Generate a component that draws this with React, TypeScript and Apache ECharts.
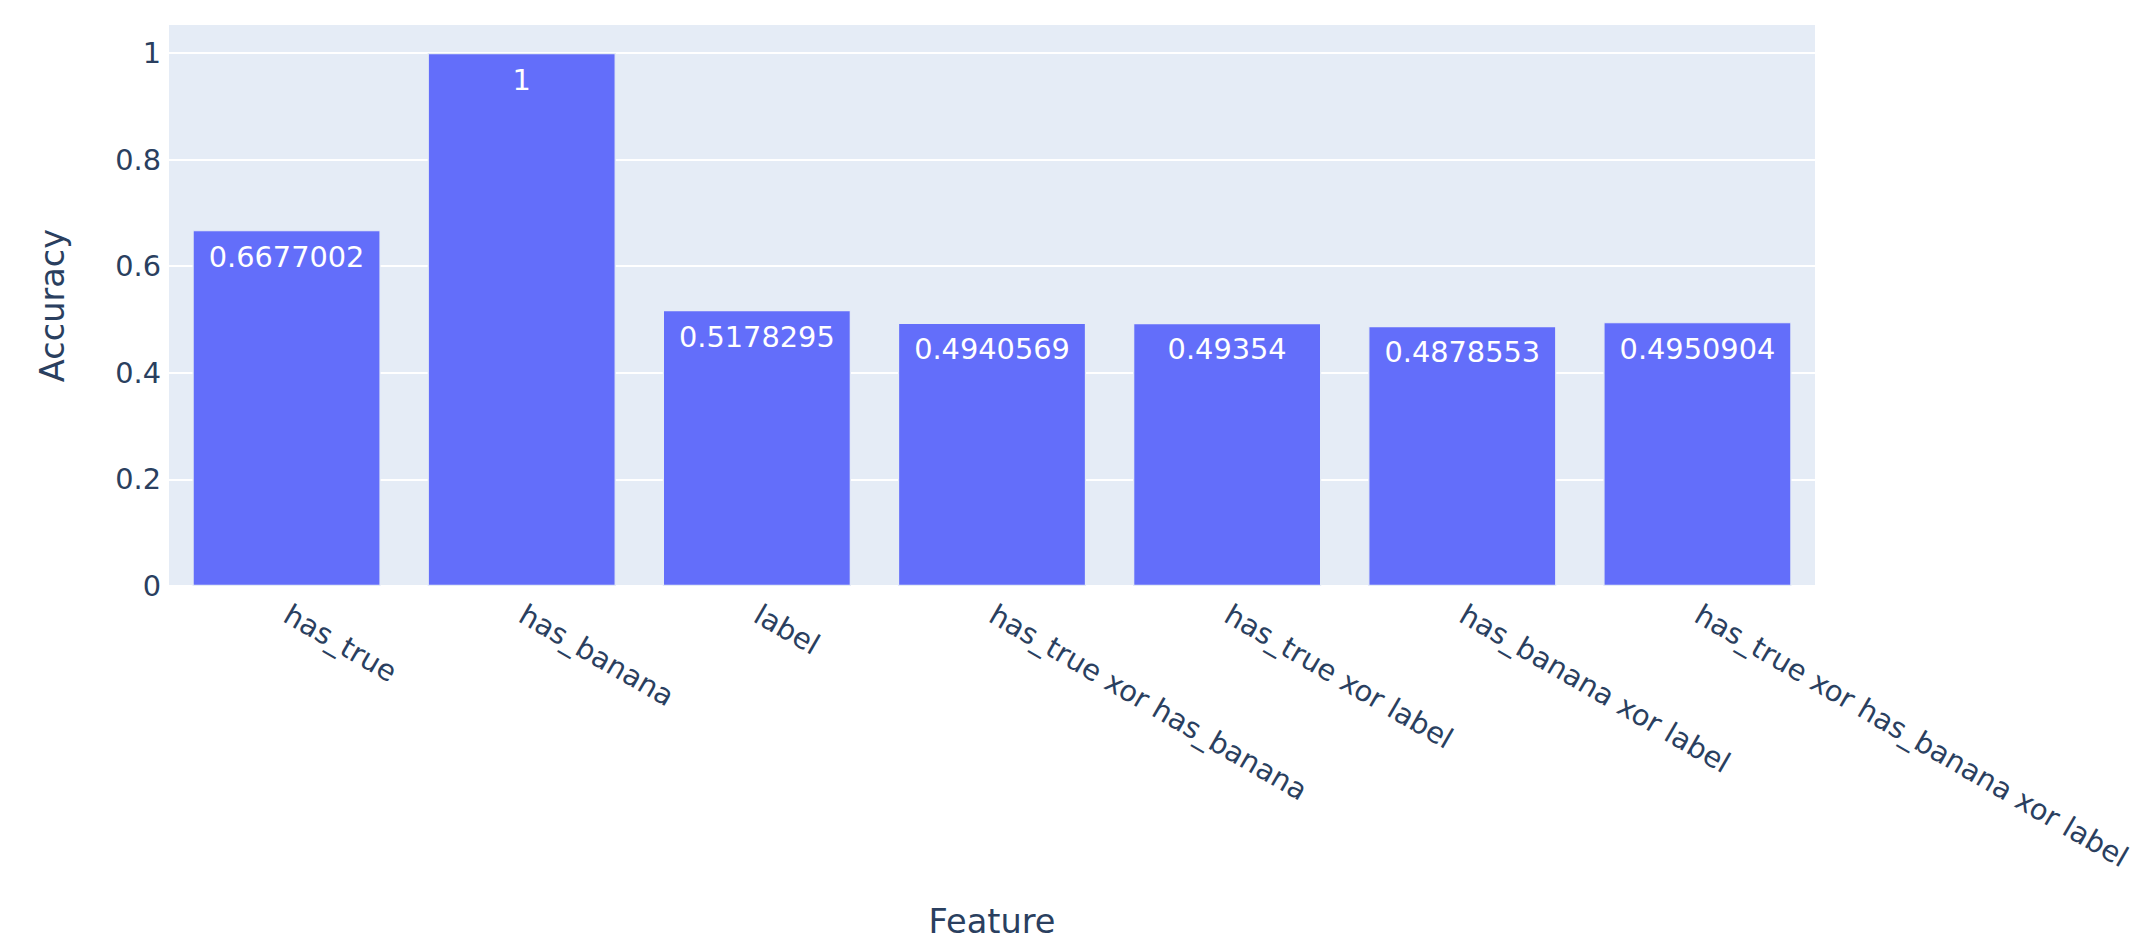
import React, { useEffect, useRef } from "react";
import * as echarts from "echarts";

const categories = [
  "has_true",
  "has_banana",
  "label",
  "has_true xor has_banana",
  "has_true xor label",
  "has_banana xor label",
  "has_true xor has_banana xor label",
];
const accuracy = [0.6677002, 1, 0.5178295, 0.4940569, 0.49354, 0.4878553, 0.4950904];
const yTicks = [0, 0.2, 0.4, 0.6, 0.8, 1];
const xTitle = "Feature";
const yTitle = "Accuracy";

const FONT = "'DejaVu Sans', Verdana, sans-serif";
const INK = "#2a3f5f";

export default function App() {
  const ref = useRef<HTMLDivElement>(null);
  useEffect(() => {
    if (!ref.current) return;
    const chart = echarts.init(ref.current, null, { renderer: "svg" });
    const yMax = Math.max(...accuracy) / 0.95;
    chart.setOption({
      animation: false,
      backgroundColor: "#ffffff",
      textStyle: { fontFamily: FONT },
      grid: {
        left: 169,
        right: 2146 - 1815,
        top: 25,
        bottom: 946 - 586,
        show: true,
        backgroundColor: "#E5ECF6",
        borderWidth: 0,
      },
      xAxis: {
        type: "category",
        data: categories,
        name: xTitle,
        nameLocation: "middle",
        nameGap: 318,
        nameTextStyle: { fontSize: 33.6, color: INK, fontFamily: FONT },
        axisLine: { show: false },
        axisTick: { show: false },
        axisLabel: {
          rotate: -30,
          interval: 0,
          margin: 26,
          fontSize: 28.8,
          color: INK,
          fontFamily: FONT,
        },
        splitLine: { show: false },
      },
      yAxis: {
        type: "value",
        min: 0,
        max: yMax,
        interval: 0.2,
        name: yTitle,
        nameLocation: "middle",
        nameGap: 100,
        nameTextStyle: { fontSize: 33.6, color: INK, fontFamily: FONT },
        axisLine: { show: false },
        axisTick: { show: false },
        axisLabel: {
          margin: 8,
          fontSize: 28.8,
          color: INK,
          fontFamily: FONT,
          showMaxLabel: false,
          formatter: (v: number) => {
            const t = yTicks.find((k) => Math.abs(k - v) < 1e-6);
            return t === undefined ? "" : String(t);
          },
        },
        splitLine: {
          show: true,
          showMaxLine: false,
          lineStyle: { color: "#ffffff", width: 2 },
        },
      },
      series: [
        {
          type: "bar",
          data: accuracy,
          barCategoryGap: "20%",
          itemStyle: { color: "#636EFA", borderColor: "#E5ECF6", borderWidth: 1.2 },
          label: {
            show: true,
            position: "insideTop",
            distance: 12,
            color: "#ffffff",
            fontSize: 28.8,
            fontFamily: FONT,
            formatter: (p: any) => String(p.value),
          },
        },
      ],
    });
    return () => chart.dispose();
  }, []);
  return (
    <div
      ref={ref}
      style={{ position: "absolute", left: 0, top: 0, width: 2146, height: 946 }}
    />
  );
}
